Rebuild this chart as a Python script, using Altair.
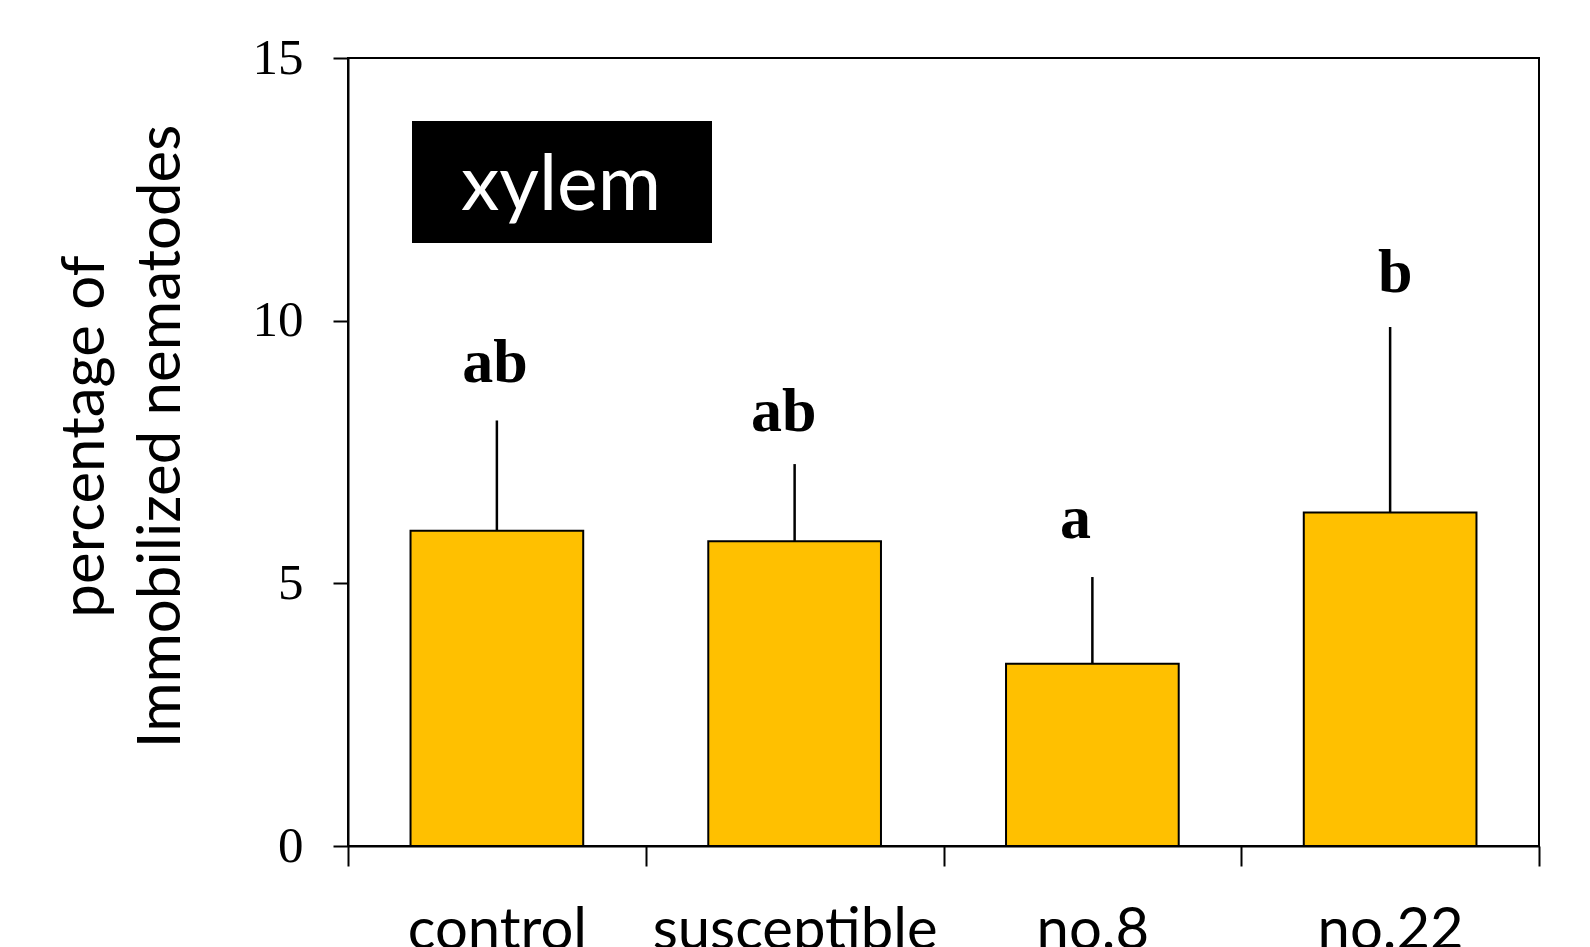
import altair as alt
import pandas as pd

categories = ["control", "susceptible", "no.8", "no.22"]
means = [6.0, 5.8, 3.47, 6.35]
upper = [8.1, 7.27, 5.12, 9.88]
letters = ["ab", "ab", "a", "b"]
letter_y = [8.84, 7.9, 5.87, 10.54]
y_ticks = [0, 5, 10, 15]
panel_label = ["xylem"]

df = pd.DataFrame({
    "cat": categories,
    "mean": means,
    "upper": upper,
    "letter": letters,
    "ly": letter_y,
})

x_enc = alt.X(
    "cat:N",
    sort=categories,
    scale=alt.Scale(paddingInner=0, paddingOuter=0),
    axis=alt.Axis(
        title=None,
        labelAngle=0,
        labelFont="Lato",
        labelFontSize=58,
        labelColor="black",
        labelPadding=36,
        labelLimit=0,
        tickBand="extent",
        tickSize=20,
        tickWidth=2,
        tickColor="black",
        domainColor="black",
        domainWidth=2,
    ),
)

y_scale = alt.Scale(domain=[0, 15], nice=False)

base = alt.Chart(df).encode(x=x_enc)

bars = base.mark_bar(
    color="#FFC000", stroke="black", strokeWidth=2, width=alt.RelativeBandSize(0.58)
).encode(
    y=alt.Y(
        "mean:Q",
        scale=y_scale,
        axis=alt.Axis(
            values=y_ticks,
            grid=False,
            labelFont="Liberation Serif",
            labelFontSize=51,
            labelColor="black",
            labelPadding=30,
            tickSize=15,
            tickWidth=2,
            tickColor="black",
            domainColor="black",
            domainWidth=2,
            title=["percentage of", "Immobilized nematodes"],
            titleFont="Lato",
            titleFontSize=60,
            titleFontWeight="normal",
            titleColor="black",
            titleLineHeight=76,
            titleAngle=-90,
            titleAlign="center",
            titleBaseline="middle",
            titleX=-263,
            titleY=378,
        ),
    )
)

err = base.mark_rule(color="black", strokeWidth=2.5).encode(
    y=alt.Y("mean:Q", scale=y_scale), y2="upper:Q"
)

letter_dx = {"control": -2, "susceptible": -11, "no.8": -17, "no.22": 5}
txt_layers = []
for c in categories:
    txt_layers.append(
        base.transform_filter(alt.datum.cat == c).mark_text(
            font="Liberation Serif", fontWeight="bold", fontSize=62,
            baseline="alphabetic", align="center", color="black", dx=letter_dx[c]
        ).encode(y=alt.Y("ly:Q", scale=y_scale), text="letter:N")
    )

lab_df = pd.DataFrame({"label": panel_label})
box = alt.Chart(lab_df).mark_rect(color="black").encode(
    x=alt.value(64), x2=alt.value(364), y=alt.value(63), y2=alt.value(185)
)
box_txt = alt.Chart(lab_df).mark_text(
    font="Lato", fontSize=77, color="white", align="center", baseline="alphabetic"
).encode(x=alt.value(213), y=alt.value(152), text="label:N")

chart = alt.layer(err, bars, *txt_layers, box, box_txt).properties(
    width=1191,
    height=788,
    autosize=alt.AutoSizeParams(type="none"),
    padding={"left": 340, "top": 50, "right": 40, "bottom": 101},
).configure_view(stroke="black", strokeWidth=2)

chart.save("out.html", embed_options={"renderer": "svg", "actions": False})
